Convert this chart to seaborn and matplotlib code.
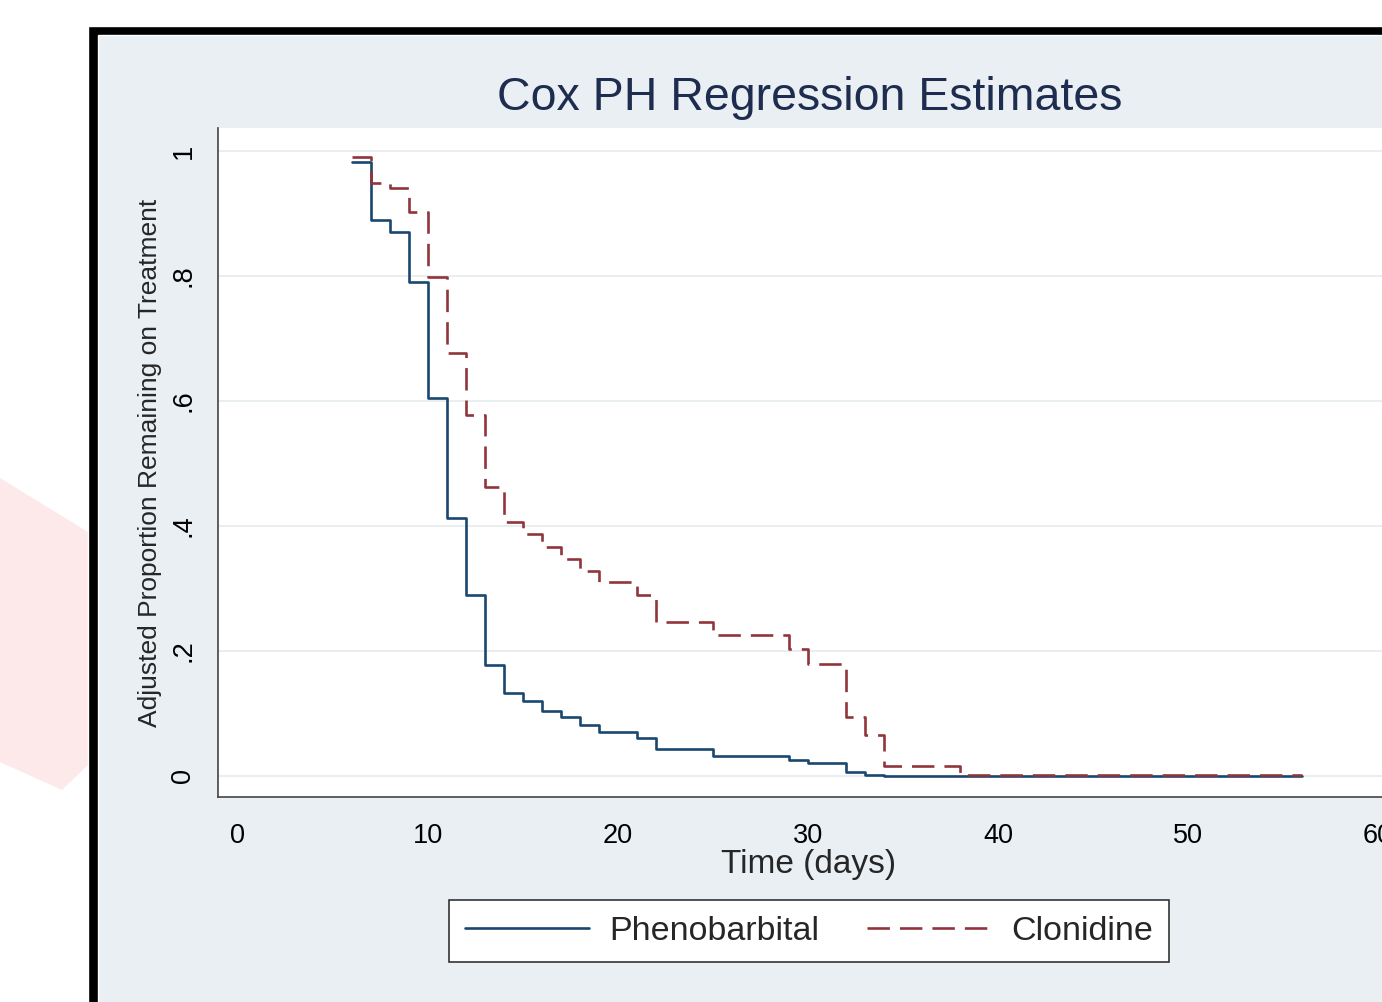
import matplotlib
matplotlib.use("Agg")
import matplotlib.pyplot as plt
from matplotlib.patches import Rectangle, Polygon
import pandas as pd
import seaborn as sns

# step estimates
pheno_time = [6, 7, 8, 9, 10, 11, 12, 13, 14, 15, 16, 17, 18, 19, 21, 22, 25, 29, 30, 32, 33, 34, 56]
pheno_surv = [0.983, 0.890, 0.871, 0.790, 0.604, 0.413, 0.290, 0.178, 0.133, 0.120, 0.104, 0.094,
              0.082, 0.070, 0.061, 0.043, 0.032, 0.026, 0.021, 0.006, 0.002, 0.0, 0.0]
clon_time = [6, 7, 8, 9, 10, 11, 12, 13, 14, 15, 16, 17, 18, 19, 21, 22, 25, 29, 30, 32, 33, 34, 38, 56]
clon_surv = [0.991, 0.949, 0.941, 0.902, 0.798, 0.676, 0.577, 0.463, 0.407, 0.387, 0.366, 0.347,
             0.328, 0.310, 0.290, 0.246, 0.226, 0.203, 0.179, 0.094, 0.066, 0.015, 0.002, 0.002]

x_ticks = [0, 10, 20, 30, 40, 50, 60]
y_ticks = [0, 0.2, 0.4, 0.6, 0.8, 1]
y_labels = ["0", ".2", ".4", ".6", ".8", "1"]

pheno = pd.DataFrame({"time": pheno_time, "surv": pheno_surv})
clon = pd.DataFrame({"time": clon_time, "surv": clon_surv})

sns.set_style("white")
plt.rcParams['font.family'] = ['Liberation Sans', 'DejaVu Sans']

W, H = 1382, 1002
fig = plt.figure(figsize=(W / 100, H / 100), dpi=100)
fig.patch.set_facecolor("white")

def px(x, y):
    return (x / W, 1 - y / H)

# watermark + frame (drawn under the axes)
fig.patches.append(Polygon([px(0, 478), px(88, 532), px(88, 765), px(62, 790), px(0, 762)],
                           closed=True, transform=fig.transFigure, facecolor="#fde9ea",
                           edgecolor="none", zorder=-3))
fig.patches.append(Rectangle(px(88, 1010), (1420 - 88) / W, (1010 - 26) / H,
                             transform=fig.transFigure, facecolor="black", zorder=-2))
fig.patches.append(Rectangle(px(98, 1010), (1420 - 98) / W, (1010 - 35) / H,
                             transform=fig.transFigure, facecolor="#e9eff3", zorder=-1))

ax = fig.add_axes([218 / W, 1 - 797 / H, (1400 - 218) / W, (797 - 128) / H])
ax.set_facecolor("white")

sns.lineplot(data=pheno, x="time", y="surv", ax=ax, drawstyle="steps-post",
             color="#1a476f", lw=1.9, label="Phenobarbital")
sns.lineplot(data=clon, x="time", y="surv", ax=ax, drawstyle="steps-post",
             color="#90353b", lw=1.9, linestyle=(0, (8.5, 3.8)), label="Clonidine")

ax.set_xlim(-1.05, 61.15)
ax.set_ylim(-0.034, 1.037)
ax.set_xticks(x_ticks)
ax.set_yticks(y_ticks)
ax.set_yticklabels(y_labels, rotation=90, va="center")
ax.tick_params(axis="both", direction="out", length=10.5, width=1.2, color="#444444",
               labelsize=19.5, pad=5, labelcolor="black")
ax.tick_params(axis="x", pad=8)
for s in ["top", "right"]:
    ax.spines[s].set_visible(False)
for s in ["left", "bottom"]:
    ax.spines[s].set_color("#444444")
    ax.spines[s].set_linewidth(1.2)
ax.grid(axis="y", color="#e9eef1", lw=1.4)
ax.set_axisbelow(True)

ax.set_xlabel("Time (days)", fontsize=24, labelpad=0)
ax.set_ylabel("Adjusted Proportion Remaining on Treatment", fontsize=19, labelpad=6)

fig.text(810 / W, 1 - 98 / H, "Cox PH Regression Estimates", ha="center", va="center",
         fontsize=33.5, color="#1e2d4f")

ax.get_legend().remove()
handles, labels = ax.get_legend_handles_labels()
leg = fig.legend(handles, labels, loc="center", bbox_to_anchor=px(809, 931), ncol=2,
                 fontsize=24.5, frameon=True, fancybox=False, framealpha=1,
                 handlelength=3.65, handletextpad=0.6, columnspacing=1.4,
                 borderpad=0.45, borderaxespad=0)
leg.get_frame().set_edgecolor("#333333")
leg.get_frame().set_linewidth(1.2)
leg.get_frame().set_facecolor("white")

fig.savefig("out.png", dpi=100)
